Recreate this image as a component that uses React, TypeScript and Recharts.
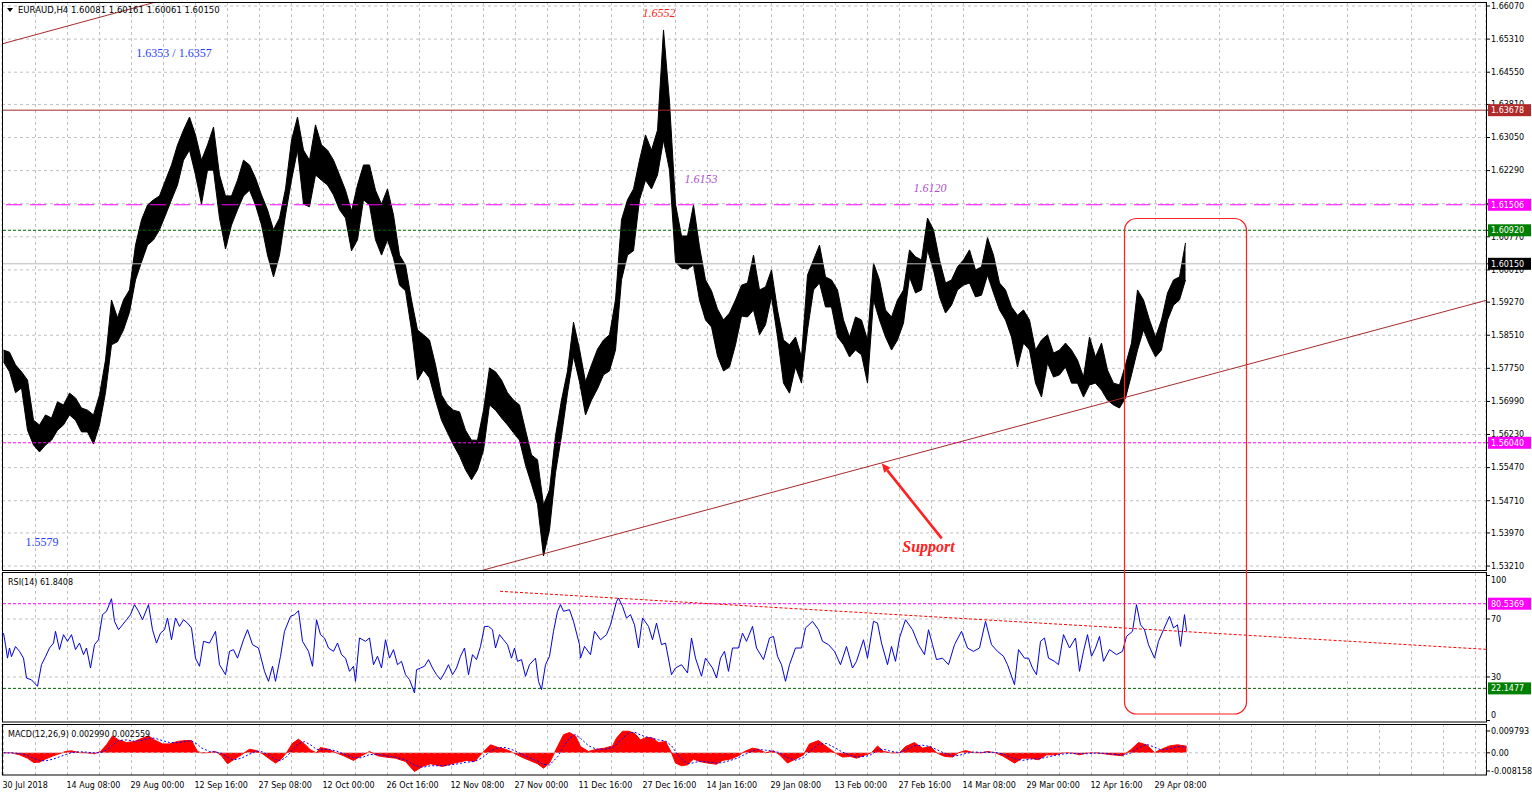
import React from 'react';
import {
  ComposedChart, Area, Line, XAxis, YAxis, CartesianGrid, ReferenceLine, ReferenceDot,
} from 'recharts';

// ---------- DATA ----------
const SAMPLE_STEP = 6; // H4 bars between price samples

const priceHigh: number[] = [
  1.5817, 1.5812, 1.5783, 1.5767, 1.5748, 1.5656, 1.5645, 1.5668, 1.5661, 1.5698,
  1.5691, 1.5718, 1.5707, 1.5684, 1.5679, 1.5668, 1.5714, 1.5794, 1.5932, 1.5891,
  1.5932, 1.5955, 1.6058, 1.6116, 1.6150, 1.6162, 1.6171, 1.6207, 1.6242, 1.6288,
  1.6322, 1.6352, 1.6311, 1.6253, 1.6288, 1.6329, 1.6219, 1.6171, 1.6171, 1.6207,
  1.6253, 1.6242, 1.6212, 1.6173, 1.6139, 1.6093, 1.6120, 1.6187, 1.6299, 1.6352,
  1.6276, 1.6253, 1.6334, 1.6288, 1.6276, 1.6253, 1.6219, 1.6184, 1.6136, 1.6196,
  1.6242, 1.6242, 1.6184, 1.6152, 1.6187, 1.6127, 1.6035, 1.6012, 1.5932, 1.5863,
  1.5852, 1.5840, 1.5783, 1.5714, 1.5691, 1.5679, 1.5675, 1.5633, 1.5610, 1.5610,
  1.5679, 1.5776, 1.5767, 1.5748, 1.5719, 1.5702, 1.5691, 1.5633, 1.5576, 1.5565,
  1.5461, 1.5496, 1.5620, 1.5702, 1.5769, 1.5881, 1.5819, 1.5744, 1.5783, 1.5819,
  1.5840, 1.5852, 1.5932, 1.6116, 1.6162, 1.6187, 1.6253, 1.6311, 1.6276, 1.6322,
  1.6552, 1.6387, 1.6152, 1.6079, 1.6079, 1.6150, 1.6054, 1.5978, 1.5953, 1.5911,
  1.5886, 1.5902, 1.5932, 1.5966, 1.5971, 1.6035, 1.5955, 1.5962, 1.6001, 1.5909,
  1.5840, 1.5829, 1.5847, 1.5801, 1.5989, 1.6024, 1.6058, 1.5985, 1.5978, 1.5955,
  1.5886, 1.5847, 1.5893, 1.5886, 1.5840, 1.6017, 1.5978, 1.5909, 1.5893, 1.5932,
  1.5955, 1.6047, 1.6031, 1.6024, 1.6120, 1.6093, 1.6024, 1.5971, 1.5978, 1.6008,
  1.6024, 1.6047, 1.6001, 1.6008, 1.6075, 1.6035, 1.5971, 1.5955, 1.5916, 1.5897,
  1.5909, 1.5886, 1.5817, 1.5840, 1.5852, 1.5810, 1.5817, 1.5833, 1.5817, 1.5794,
  1.5755, 1.5847, 1.5801, 1.5833, 1.5771, 1.5741, 1.5737, 1.5783, 1.5833, 1.5955,
  1.5932, 1.5886, 1.5847, 1.5886, 1.5948, 1.5978, 1.5985, 1.6063,
];

const priceLow: number[] = [
  1.5790, 1.5767, 1.5719, 1.5730, 1.5633, 1.5599, 1.5583, 1.5599, 1.5610, 1.5633,
  1.5645, 1.5668, 1.5656, 1.5629, 1.5629, 1.5601, 1.5645, 1.5719, 1.5829, 1.5836,
  1.5863, 1.5904, 1.5978, 1.6019, 1.6058, 1.6070, 1.6093, 1.6127, 1.6162, 1.6196,
  1.6253, 1.6276, 1.6219, 1.6152, 1.6230, 1.6230, 1.6120, 1.6049, 1.6104, 1.6139,
  1.6171, 1.6184, 1.6150, 1.6104, 1.6035, 1.5985, 1.6035, 1.6127, 1.6207, 1.6276,
  1.6152, 1.6146, 1.6219, 1.6207, 1.6196, 1.6173, 1.6139, 1.6120, 1.6045, 1.6070,
  1.6162, 1.6150, 1.6070, 1.6035, 1.6070, 1.6028, 1.5966, 1.5953, 1.5863, 1.5748,
  1.5771, 1.5753, 1.5702, 1.5656, 1.5627, 1.5599, 1.5574, 1.5542, 1.5519, 1.5542,
  1.5587, 1.5691, 1.5679, 1.5661, 1.5645, 1.5627, 1.5610, 1.5553, 1.5509, 1.5463,
  1.5344, 1.5404, 1.5535, 1.5620, 1.5718, 1.5803, 1.5744, 1.5668, 1.5702, 1.5728,
  1.5760, 1.5769, 1.5817, 1.5978, 1.6035, 1.6045, 1.6162, 1.6207, 1.6187, 1.6219,
  1.6299, 1.6230, 1.6019, 1.6005, 1.6003, 1.6012, 1.5932, 1.5886, 1.5870, 1.5803,
  1.5769, 1.5778, 1.5829, 1.5895, 1.5893, 1.5909, 1.5852, 1.5875, 1.5939, 1.5847,
  1.5741, 1.5718, 1.5778, 1.5741, 1.5863, 1.5955, 1.5971, 1.5916, 1.5916, 1.5847,
  1.5829, 1.5801, 1.5817, 1.5806, 1.5741, 1.5932, 1.5886, 1.5847, 1.5817, 1.5840,
  1.5879, 1.5985, 1.5948, 1.5955, 1.6047, 1.6001, 1.5939, 1.5902, 1.5920, 1.5955,
  1.5966, 1.5971, 1.5939, 1.5943, 1.5989, 1.5948, 1.5909, 1.5886, 1.5847, 1.5778,
  1.5833, 1.5817, 1.5741, 1.5709, 1.5787, 1.5755, 1.5760, 1.5778, 1.5741, 1.5741,
  1.5709, 1.5737, 1.5741, 1.5725, 1.5702, 1.5691, 1.5684, 1.5707, 1.5760, 1.5817,
  1.5863, 1.5829, 1.5801, 1.5817, 1.5886, 1.5920, 1.5932, 1.5978,
];

const rsiBars: number[] = [
  0, 2, 4, 6, 8, 12, 16, 20, 23, 28, 34, 38, 42, 46, 50, 52, 56, 60, 64, 68,
  72, 76, 80, 83, 87, 91, 95, 99, 103, 108, 111, 115, 119, 123, 127, 131, 135, 139, 145, 149,
  153, 157, 161, 164, 168, 172, 176, 180, 184, 188, 192, 196, 200, 206, 212, 216, 222, 226, 230, 234,
  240, 244, 249, 255, 261, 265, 269, 272, 277, 281, 287, 291, 295, 299, 305, 309, 313, 317, 321, 325,
  330, 334, 338, 342, 346, 350, 352, 356, 362, 366, 370, 374, 378, 382, 386, 390, 394, 398, 402, 406,
  411, 413, 417, 421, 425, 429, 433, 437, 441, 445, 449, 453, 457, 461, 465, 469, 473, 477, 481, 485,
  489, 492, 496, 500, 504, 508, 511, 514, 518, 522, 526, 532, 535, 538, 542, 546, 550, 554, 557, 560,
  566, 570, 576, 577, 581, 587, 591, 597, 603, 607, 613, 615, 619, 623, 627, 631, 635, 639, 645, 649,
  653, 658, 662, 668, 672, 678, 684, 688, 692, 698, 702, 709, 713, 717, 721, 725, 729, 735, 739, 743,
  749, 753, 760, 766, 770, 774, 778, 782, 786, 792, 798, 802, 809, 815, 819, 825, 831, 837, 843, 849,
  853, 860, 864, 870, 874, 878, 884, 888, 892, 896, 902, 909, 915, 921, 925, 929, 933, 939, 945, 951,
  958, 964, 970, 976, 982, 988, 994, 1000, 1004, 1011, 1015, 1021, 1025, 1029, 1033, 1037, 1041, 1045, 1051, 1055,
  1060, 1066, 1072, 1076, 1080, 1084, 1088, 1092, 1096, 1100, 1106, 1113, 1119, 1123, 1129, 1133, 1137, 1141, 1145, 1151,
  1155, 1160, 1166, 1170, 1174, 1177, 1181, 1183,
];

const rsiValues: number[] = [
  60.3, 52.3, 43, 50, 44, 51, 47.7, 43, 29.3, 28, 23.6, 38.5, 44, 50, 53.4, 61.5, 48.9, 59.2, 54.6, 59.2,
  48.9, 53.4, 45.4, 50, 36.2, 52.3, 55.7, 73, 75.3, 84, 68.4, 62.6, 66, 69.5, 73, 79.9, 75.3, 69.5, 79.9, 62.6,
  53.4, 60.3, 62.6, 70.7, 55.7, 70.7, 64.9, 69.5, 67.2, 63.8, 43, 37.4, 54.6, 53.4, 61.5, 38.5, 31.6, 47.7, 48.9, 43,
  55.7, 62.6, 52.3, 50, 33.9, 27, 37.4, 27, 44.3, 61.5, 71.8, 73, 75.7, 54.6, 47.7, 37.4, 69.5, 59.2, 56.9, 50,
  47.7, 53.4, 45.4, 43, 33.9, 37.4, 27, 56.9, 54.6, 56.9, 38.5, 44.3, 36.2, 55.7, 43, 48.9, 38.5, 40.8, 31.6, 28.2,
  19, 35, 36.2, 37.4, 42, 36.2, 31.6, 28.2, 32.8, 38.5, 31.6, 36.2, 44.3, 50, 31.6, 45.4, 42, 51.1, 64.9, 64.9,
  62.6, 50, 59.2, 55.7, 52.3, 43, 50, 40.8, 42, 30.5, 38.5, 43, 27, 21.3, 38.5, 44.3, 61.5, 75.3, 79.9, 75.3,
  76.4, 68.4, 52.3, 43, 51.1, 45.4, 61.5, 55.7, 59.2, 66, 82, 84.5, 78.7, 70.7, 73, 66, 50, 70.7, 64.9, 55.7,
  67.2, 52.3, 53.4, 31.6, 36.2, 38.5, 32.8, 56.9, 43, 30.5, 43, 36.2, 29.3, 43, 47.7, 33.9, 50, 50, 60.3, 54.6,
  64.9, 50, 42, 56.9, 58, 44.3, 38.5, 27, 38.5, 50, 50, 63.8, 68.4, 62.6, 54.6, 52.3, 47.7, 38.5, 51.1, 36.2,
  40.8, 55.7, 43, 68.4, 67.2, 53.4, 38.5, 51.1, 40.8, 56.9, 69.5, 62.6, 52.3, 45.4, 62.6, 52.3, 42, 43, 38.5, 52.3,
  61.5, 50, 47.7, 50, 68.4, 52.3, 47.7, 44.3, 38.5, 24.7, 48.9, 43, 43, 36.2, 31.6, 54.6, 56.9, 43, 40.8, 38.5,
  59.2, 50, 56.9, 33.9, 47.7, 59.2, 44.3, 50, 58, 40.8, 48.9, 45.4, 47.7, 58, 61.5, 79.9, 66, 62.6, 52.3, 43,
  54.6, 62.6, 71.8, 63.8, 66, 51.1, 73, 61.8408,
];

const macdBars: number[] = [
  0, 8, 16, 24, 30, 36, 42, 50, 56, 62, 68, 76, 83, 91, 97, 103, 109, 115, 123, 131,
  139, 145, 151, 159, 166, 174, 182, 188, 194, 198, 206, 212, 218, 224, 230, 238, 246, 253, 259, 265,
  272, 277, 283, 289, 295, 301, 307, 313, 317, 325, 332, 340, 350, 358, 366, 374, 382, 392, 402, 411,
  419, 427, 439, 451, 463, 471, 479, 487, 494, 502, 510, 518, 526, 534, 540, 546, 554, 560, 566, 572,
  577, 585, 593, 601, 609, 613, 619, 625, 631, 637, 643, 649, 655, 662, 668, 672, 678, 684, 690, 696,
  704, 713, 719, 727, 735, 741, 749, 755, 762, 770, 776, 784, 792, 800, 806, 815, 823, 831, 839, 847,
  853, 862, 868, 874, 880, 888, 896, 902, 911, 919, 927, 933, 941, 949, 955, 962, 970, 978, 984, 992,
  1000, 1011, 1019, 1027, 1035, 1043, 1051, 1060, 1068, 1076, 1084, 1092, 1100, 1109, 1119, 1127, 1135, 1143, 1151, 1158,
  1166, 1174, 1183,
];

const macdValues: number[] = [
  0, 0, -0.0009, -0.0024, -0.0043, -0.0042, -0.0028, -0.0013, -0.0004, 0.0006, 0.0009, 0.0001, 0, -0.0004, 0.0006, 0.0036, 0.0076, 0.0058, 0.0046, 0.0051,
  0.0066, 0.0076, 0.0058, 0.004, 0.004, 0.0051, 0.0055, 0.0055, 0.0006, 0, 0.0001, 0.0006, -0.0013, -0.0049, -0.0031, -0.0009, 0.0016, 0.001, -0.0004, -0.0024,
  -0.0046, -0.0031, 0, 0.0043, 0.0061, 0.004, 0.0013, 0, 0.0024, 0.0016, 0.0001, -0.0013, -0.0034, -0.0013, 0.0006, -0.0013, -0.0019, -0.0024, -0.0039, -0.0084,
  -0.0061, -0.0049, -0.0061, -0.0046, -0.0034, -0.0039, 0, 0.0036, 0.0025, 0.0016, 0, -0.0019, -0.0034, -0.0049, -0.0069, -0.0046, 0.0028, 0.0081, 0.0091, 0.0076,
  0.0028, 0.0006, 0.0016, 0.0021, 0.0031, 0.0066, 0.0097, 0.0097, 0.0088, 0.0058, 0.007, 0.0066, 0.0046, 0.0051, 0, -0.0046, -0.0058, -0.0054, -0.0028, -0.0039,
  -0.0046, -0.0051, -0.0034, -0.0028, -0.0013, 0.0006, 0.0021, 0.0016, 0, 0.0009, -0.0009, -0.0046, -0.0028, -0.0009, 0.004, 0.0055, 0.0028, 0.0001, -0.0019, -0.0016,
  -0.0024, -0.0009, 0, 0.0031, 0.0006, 0, 0, 0.0028, 0.0046, 0.0021, 0.0028, 0, -0.0016, -0.0019, 0, 0.001, 0.0001, 0, 0.0006, 0,
  -0.0016, -0.0046, -0.0024, -0.0024, -0.0031, -0.0009, -0.0009, 0, 0, -0.0009, 0, 0, -0.0004, -0.0009, -0.0013, 0.0013, 0.0046, 0.0036, 0.0001, 0.0016,
  0.0031, 0.0036, 0.00299,
];

const signalValues: number[] = [
  0, 0, -0.0003, -0.0012, -0.0024, -0.0034, -0.0036, -0.0028, -0.0018, -0.0008, 0.0001, 0.0005, 0.0003, 0, 0.0001, 0.0012, 0.0035, 0.0055, 0.0058, 0.0052,
  0.0056, 0.0065, 0.0066, 0.0055, 0.0046, 0.0046, 0.0051, 0.0054, 0.0038, 0.0022, 0.0006, 0.0004, -0.0002, -0.002, -0.0032, -0.0024, -0.0006, 0.0008, 0.0004, -0.001,
  -0.003, -0.0036, -0.0018, 0.0012, 0.0042, 0.005, 0.0036, 0.0016, 0.0014, 0.0016, 0.0009, -0.0004, -0.0022, -0.0022, -0.0008, -0.0006, -0.0013, -0.002, -0.0031, -0.0056,
  -0.0065, -0.0058, -0.0058, -0.0052, -0.0042, -0.0039, -0.0022, 0.0008, 0.0022, 0.0024, 0.0012, -0.0006, -0.0022, -0.0038, -0.0052, -0.0055, -0.0018, 0.0028, 0.0066, 0.0082,
  0.0065, 0.0032, 0.0016, 0.0016, 0.0024, 0.0038, 0.0066, 0.0088, 0.0093, 0.008, 0.0071, 0.0066, 0.0058, 0.0053, 0.0032, 0.0005, -0.0028, -0.0048, -0.0045, -0.0038,
  -0.0041, -0.0046, -0.0044, -0.0034, -0.0022, -0.0008, 0.0008, 0.0015, 0.0012, 0.0007, 0.0001, -0.0022, -0.0033, -0.0022, 0.0006, 0.0038, 0.0042, 0.0024, 0.0003, -0.0011,
  -0.0019, -0.0016, -0.0008, 0.0012, 0.0016, 0.0006, 0.0001, 0.0012, 0.0032, 0.0034, 0.0028, 0.0015, -0.0002, -0.0014, -0.0012, -0.0003, 0.0004, 0.0002, 0.0003, 0.0002,
  -0.0006, -0.0026, -0.0034, -0.0028, -0.0027, -0.002, -0.0012, -0.0005, -0.0002, -0.0004, -0.0004, -0.0001, -0.0002, -0.0006, -0.001, -0.0002, 0.0022, 0.0038, 0.0026, 0.0012,
  0.0018, 0.0028, 0.002559,
];

const timeLabels: string[] = [
  '30 Jul 2018', '14 Aug 08:00', '29 Aug 00:00', '12 Sep 16:00', '27 Sep 08:00', '12 Oct 00:00',
  '26 Oct 16:00', '12 Nov 08:00', '27 Nov 00:00', '11 Dec 16:00', '27 Dec 16:00', '14 Jan 16:00',
  '29 Jan 08:00', '13 Feb 00:00', '27 Feb 16:00', '14 Mar 08:00', '29 Mar 00:00', '12 Apr 16:00',
  '29 Apr 08:00',
];
const LABEL_EVERY = 64; // bars between time labels
const GRID_EVERY = 32;  // bars between vertical grid lines

const priceTicks: number[] = [
  1.6607, 1.6531, 1.6455, 1.6381, 1.6305, 1.6229, 1.6153, 1.6077, 1.6001,
  1.5927, 1.5851, 1.5775, 1.5699, 1.5623, 1.5547, 1.5471, 1.5397, 1.5321,
];
const rsiTicks: number[] = [100, 70, 30, 0];
const rsiGridLevels: number[] = [70, 30];
const macdTicks: number[] = [0.009793, 0, -0.008158];
const macdTickText: string[] = ['0.009793', '0.00', '-0.008158'];

// horizontal levels drawn on the price panel (value, colour of line, colour of axis box)
const levelValues: number[] = [1.63678, 1.61506, 1.6092, 1.6015, 1.5604];
const levelLineColors: string[] = ['#a52a2a', '#ff00ff', '#006400', '#b8b8b8', '#ff00ff'];
const levelBoxColors: string[] = ['#b02a2a', '#ff00ff', '#008000', '#000000', '#ff00ff'];
const levelDash: string[] = ['', '16 8', '3 2', '', '3 2'];

const rsiUpper = 80.5369;
const rsiLower = 22.1477;

// annotation anchors (bar, price)
const topTrend = [{ b: -1.5, p: 1.652 }, { b: 160, p: 1.6621 }];
const supportTrend = [{ b: 470, p: 1.53058 }, { b: 1482.5, p: 1.5931 }];
const rsiTrend = [{ b: 496.5, v: 89.1 }, { b: 1482.5, v: 49.1 }];
const arrowPts = [{ b: 938.2, p: 1.53846 }, { b: 878.2, p: 1.55569 }];
const textNotes = [
  { b: 655.5, p: 1.65909, text: '1.6552', color: '#ff2020', italic: true, size: 12, bold: false },
  { b: 170.5, p: 1.64991, text: '1.6353 / 1.6357', color: '#2a3cff', italic: false, size: 12, bold: false },
  { b: 38.5, p: 1.53762, text: '1.5579', color: '#2a3cff', italic: false, size: 12, bold: false },
  { b: 697.5, p: 1.62097, text: '1.6153', color: '#b050c8', italic: true, size: 12, bold: false },
  { b: 926.5, p: 1.61891, text: '1.6120', color: '#b050c8', italic: true, size: 12, bold: false },
  { b: 925, p: 1.5367, text: 'Support', color: '#ff2020', italic: true, size: 16, bold: true },
];

// ---------- BUILD ----------
const priceData = priceHigh.map((h, i) => ({ b: i * SAMPLE_STEP, range: [priceLow[i], h] }));
const rsiData = rsiBars.map((b, i) => ({ b, v: rsiValues[i] }));
const macdData = macdBars.map((b, i) => ({ b, m: macdValues[i], s: signalValues[i] }));
const gridBars = Array.from({ length: 47 }, (_, i) => i * GRID_EVERY);
const priceAxisTicks = [...priceTicks, ...levelValues];

const X_DOMAIN: [number, number] = [-1.5, 1482.5];
const FONT = "'DejaVu Sans', sans-serif";
const FS = 8;
const GRID = '#c0c0c0';

const fmt5 = (v: number) => v.toFixed(5);

const boxLabel = (text: string, fill: string) => (props: any) => {
  const vb = props.viewBox || {};
  const x = vb.x + vb.width + 2;
  const y = vb.y;
  return (
    <g>
      <rect x={x} y={y - 6} width={43} height={12} fill={fill} />
      <text x={x + 3} y={y} dy="0.35em" fill="#ffffff" fontSize={FS} fontFamily={FONT}>{text}</text>
    </g>
  );
};

const PriceTick = (props: any) => {
  const { x, y, payload } = props;
  const li = levelValues.indexOf(payload.value);
  if (li >= 0) {
    return (
      <g>
        <rect x={x - 3} y={y - 6} width={43} height={12} fill={levelBoxColors[li]} />
        <text x={x} y={y} dy="0.35em" fontSize={FS} fontFamily={FONT} fill="#fff" textAnchor="start">
          {fmt5(payload.value)}
        </text>
      </g>
    );
  }
  return (
    <text x={x} y={y} dy="0.35em" fontSize={FS} fontFamily={FONT} fill="#000" textAnchor="start">
      {fmt5(payload.value)}
    </text>
  );
};

const RsiTick = (props: any) => {
  const { x, y, payload } = props;
  const shift = payload.value === 100 ? 4.5 : payload.value === 0 ? -5.5 : 0;
  return (
    <text x={x} y={y + shift} dy="0.35em" fontSize={FS} fontFamily={FONT} fill="#000" textAnchor="start">
      {payload.value}
    </text>
  );
};

const MacdTick = (props: any) => {
  const { x, y, payload } = props;
  const idx = macdTicks.indexOf(payload.value);
  return (
    <text x={x} y={y} dy="0.35em" fontSize={FS} fontFamily={FONT} fill="#000" textAnchor="start">
      {macdTickText[idx] ?? String(payload.value)}
    </text>
  );
};

const TimeTick = (props: any) => {
  const { x, y, payload } = props;
  const v = payload.value as number;
  if (v % LABEL_EVERY !== 0) return <g />;
  const label = timeLabels[v / LABEL_EVERY];
  if (!label) return <g />;
  return (
    <text x={x - 1} y={y + 13} fontSize={FS} fontFamily={FONT} fill="#000" textAnchor="start">
      {label}
    </text>
  );
};

const arrowShape = (p: any) => {
  const { x1, y1, x2, y2 } = p;
  const ang = Math.atan2(y2 - y1, x2 - x1);
  const len = 9;
  const w = 4;
  const bx = x2 - len * Math.cos(ang);
  const by = y2 - len * Math.sin(ang);
  const lx = bx + w * Math.sin(ang);
  const ly = by - w * Math.cos(ang);
  const rx = bx - w * Math.sin(ang);
  const ry = by + w * Math.cos(ang);
  return (
    <g>
      <line x1={x1} y1={y1} x2={bx} y2={by} stroke="#ff2020" strokeWidth={2.6} />
      <polygon points={`${x2},${y2} ${lx},${ly} ${rx},${ry}`} fill="#ff2020" />
    </g>
  );
};

const noteShape = (n: typeof textNotes[number]) => (p: any) => (
  <text
    x={p.cx}
    y={p.cy}
    dy="0.35em"
    textAnchor="middle"
    fill={n.color}
    fontSize={n.size}
    fontStyle={n.italic ? 'italic' : 'normal'}
    fontWeight={n.bold ? 'bold' : 'normal'}
    fontFamily="'Liberation Serif', 'Times New Roman', serif"
  >
    {n.text}
  </text>
);

function MainChart() {
  return (
    <ComposedChart width={1532} height={570} data={priceData} margin={{ top: 2, right: 0, bottom: 0, left: 2 }}>
      <CartesianGrid stroke={GRID} strokeDasharray="3 3" horizontalValues={priceTicks} />
      <XAxis type="number" dataKey="b" domain={X_DOMAIN} ticks={gridBars} allowDataOverflow hide />
      <YAxis
        orientation="right"
        width={46}
        domain={[1.53119, 1.66162]}
        ticks={priceAxisTicks}
        interval={0}
        allowDataOverflow
        axisLine={false}
        tickLine={{ stroke: '#000' }}
        tickSize={4}
        tickMargin={1}
        tick={<PriceTick />}
      />
      {levelValues.map((lv, i) => (
        <ReferenceLine
          key={lv}
          y={lv}
          stroke={levelLineColors[i]}
          strokeDasharray={levelDash[i] || undefined}
        />
      ))}
      <ReferenceLine
        segment={[{ x: topTrend[0].b, y: topTrend[0].p }, { x: topTrend[1].b, y: topTrend[1].p }]}
        stroke="#a52a2a"
        ifOverflow="hidden"
      />
      <ReferenceLine
        segment={[{ x: supportTrend[0].b, y: supportTrend[0].p }, { x: supportTrend[1].b, y: supportTrend[1].p }]}
        stroke="#a52a2a"
        ifOverflow="hidden"
      />
      <Area
        type="linear"
        dataKey="range"
        stroke="#000"
        strokeWidth={1}
        fill="#000"
        fillOpacity={1}
        isAnimationActive={false}
        dot={false}
        activeDot={false}
      />
      <ReferenceLine
        segment={[{ x: arrowPts[0].b, y: arrowPts[0].p }, { x: arrowPts[1].b, y: arrowPts[1].p }]}
        ifOverflow="visible"
        shape={arrowShape}
      />
      {textNotes.map((n) => (
        <ReferenceDot key={n.text} x={n.b} y={n.p} r={0} ifOverflow="visible" shape={noteShape(n)} />
      ))}
    </ComposedChart>
  );
}

function RsiChart() {
  return (
    <ComposedChart width={1532} height={149} data={rsiData} margin={{ top: 0, right: 0, bottom: 0, left: 2 }}>
      <CartesianGrid stroke={GRID} strokeDasharray="3 3" horizontal={false} />
      <XAxis type="number" dataKey="b" domain={X_DOMAIN} ticks={gridBars} allowDataOverflow hide />
      <YAxis
        orientation="right"
        width={46}
        domain={[-1.03, 101.72]}
        ticks={rsiTicks}
        interval={0}
        allowDataOverflow
        axisLine={false}
        tickLine={{ stroke: '#000' }}
        tickSize={4}
        tickMargin={1}
        tick={<RsiTick />}
      />
      {rsiGridLevels.map((lv) => (
        <ReferenceLine key={lv} y={lv} stroke={GRID} strokeDasharray="3 3" />
      ))}
      <ReferenceLine y={rsiUpper} stroke="#ff00ff" strokeDasharray="3 2" label={boxLabel('80.5369', '#ff00ff')} />
      <ReferenceLine y={rsiLower} stroke="#006400" strokeDasharray="3 2" label={boxLabel('22.1477', '#008000')} />
      <ReferenceLine
        segment={[{ x: rsiTrend[0].b, y: rsiTrend[0].v }, { x: rsiTrend[1].b, y: rsiTrend[1].v }]}
        stroke="#ff0000"
        strokeDasharray="3 2"
        ifOverflow="hidden"
      />
      <Line type="linear" dataKey="v" stroke="#0000dd" strokeWidth={1} dot={false} activeDot={false} isAnimationActive={false} />
    </ComposedChart>
  );
}

function MacdChart() {
  return (
    <ComposedChart width={1532} height={73} data={macdData} margin={{ top: 0, right: 0, bottom: 0, left: 2 }}>
      <CartesianGrid stroke={GRID} strokeDasharray="3 3" horizontal={false} />
      <XAxis
        type="number"
        dataKey="b"
        domain={X_DOMAIN}
        ticks={gridBars}
        interval={0}
        allowDataOverflow
        height={22}
        axisLine={false}
        tickLine={false}
        tickSize={0}
        tickMargin={0}
        tick={<TimeTick />}
      />
      <YAxis
        orientation="right"
        width={46}
        domain={[-0.009953, 0.012935]}
        ticks={macdTicks}
        interval={0}
        allowDataOverflow
        axisLine={false}
        tickLine={{ stroke: '#000' }}
        tickSize={4}
        tickMargin={1}
        tick={<MacdTick />}
      />
      <ReferenceLine y={0} stroke={GRID} strokeDasharray="3 3" />
      <Area
        type="linear"
        dataKey="m"
        baseValue={0}
        stroke="#ff0000"
        strokeWidth={1}
        fill="#ff0000"
        fillOpacity={1}
        dot={false}
        activeDot={false}
        isAnimationActive={false}
      />
      <Line type="linear" dataKey="s" stroke="#0000ff" strokeWidth={1} strokeDasharray="2 2" dot={false} activeDot={false} isAnimationActive={false} />
    </ComposedChart>
  );
}

export default function App() {
  return (
    <div style={{ position: 'absolute', left: 0, top: 0, width: 1532, height: 797, background: '#fff', overflow: 'hidden' }}>
      <div style={{ position: 'absolute', left: 0, top: 0 }}><MainChart /></div>
      <div style={{ position: 'absolute', left: 0, top: 573 }}><RsiChart /></div>
      <div style={{ position: 'absolute', left: 0, top: 724 }}><MacdChart /></div>
      <svg width={1532} height={797} style={{ position: 'absolute', left: 0, top: 0, pointerEvents: 'none' }}>
        <rect x={2.5} y={2.5} width={1484} height={568} fill="none" stroke="#000" />
        <rect x={2.5} y={572.5} width={1484} height={149.5} fill="none" stroke="#000" />
        <rect x={2.5} y={724.5} width={1484} height={50.5} fill="none" stroke="#000" />
        <rect x={1124.5} y={218.5} width={122} height={495.5} rx={12} ry={12} fill="none" stroke="#ff2020" strokeWidth={1.2} />
        <polygon points="7,8 13,8 10,12" fill="#000" />
        <text x={18} y={13} fontSize={8.5} fontFamily={FONT} fill="#000">EURAUD,H4  1.60081 1.60161 1.60061 1.60150</text>
        <text x={8} y={585} fontSize={FS} fontFamily={FONT} fill="#000">RSI(14) 61.8408</text>
        <text x={8} y={737} fontSize={FS} fontFamily={FONT} fill="#000">MACD(12,26,9) 0.002990 0.002559</text>
      </svg>
    </div>
  );
}
